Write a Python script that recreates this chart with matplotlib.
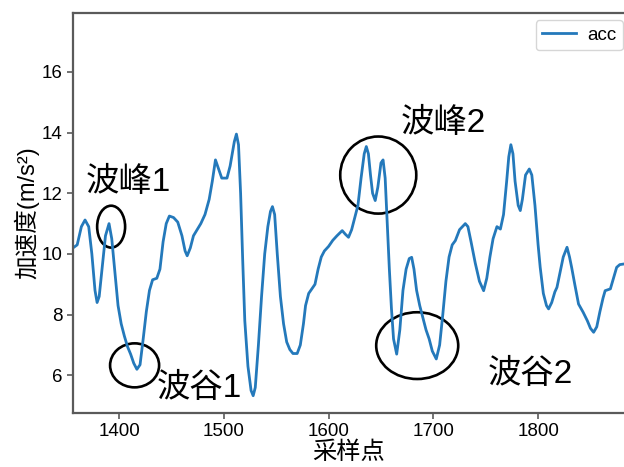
import matplotlib
matplotlib.use("Agg")
import matplotlib.pyplot as plt
from matplotlib.patches import Ellipse

plt.rcParams['font.family'] = ['Liberation Sans', 'Noto Sans CJK SC', 'DejaVu Sans']
plt.rcParams['axes.unicode_minus'] = False

# sample index and acceleration readings (m/s^2)
sample_idx = [
    1356, 1360, 1364, 1367.5, 1371, 1374, 1377, 1379, 1381, 1384, 1387, 1390.4,
    1393, 1396, 1399, 1402, 1405, 1408, 1411, 1414, 1417, 1420, 1423, 1426,
    1429, 1432, 1436, 1439, 1442, 1445, 1448, 1452, 1456, 1460, 1463, 1465,
    1468, 1471, 1474, 1478, 1482, 1486, 1489, 1492, 1495, 1498, 1503, 1506,
    1508, 1510, 1512, 1514, 1516, 1518, 1520, 1523, 1526, 1528, 1530, 1533,
    1536, 1539, 1542, 1544.5, 1546.4, 1548.5, 1551, 1554, 1557, 1560, 1563, 1566,
    1570, 1573, 1576, 1578, 1581, 1584, 1587, 1590, 1593, 1596, 1600, 1604,
    1608, 1613, 1616, 1619, 1622, 1625, 1628, 1631, 1634, 1636, 1638, 1640,
    1642, 1644.5, 1647, 1650, 1652, 1654, 1656, 1658, 1660, 1662, 1665, 1668,
    1671, 1674, 1677, 1679.3, 1681.5, 1684, 1687, 1690, 1693, 1696, 1699, 1702.8,
    1706, 1709, 1712, 1715, 1718, 1721, 1725, 1730.5, 1733, 1736, 1740, 1744,
    1748, 1751, 1754, 1757, 1760.7, 1764, 1767, 1770, 1772, 1774, 1776, 1778,
    1781, 1783, 1785, 1788, 1791.6, 1794, 1797, 1800, 1802, 1805, 1808, 1810,
    1813, 1816, 1818, 1821, 1824, 1827.6, 1830, 1832, 1835, 1838.6, 1843, 1847,
    1850, 1853, 1856, 1859, 1862, 1864, 1869, 1872, 1875, 1878, 1882,
]
acc = [
    10.2, 10.3, 10.9, 11.12, 10.9, 10.0, 8.8, 8.4, 8.6, 9.6, 10.6, 11.0,
    10.5, 9.4, 8.3, 7.7, 7.3, 6.95, 6.7, 6.4, 6.2, 6.35, 7.2, 8.1,
    8.8, 9.15, 9.2, 9.5, 10.4, 11.0, 11.25, 11.2, 11.05, 10.6, 10.1, 9.94,
    10.2, 10.6, 10.77, 11.0, 11.3, 11.8, 12.4, 13.1, 12.8, 12.5, 12.5, 12.9,
    13.3, 13.7, 13.95, 13.6, 12.0, 9.8, 7.8, 6.3, 5.5, 5.33, 5.6, 7.0,
    8.6, 10.0, 10.9, 11.4, 11.56, 11.3, 10.0, 8.6, 7.7, 7.1, 6.85, 6.72,
    6.72, 7.0, 7.7, 8.3, 8.7, 8.85, 9.0, 9.5, 9.9, 10.1, 10.25, 10.45,
    10.6, 10.77, 10.65, 10.55, 10.8, 11.2, 11.6, 12.5, 13.3, 13.54, 13.3, 12.6,
    12.0, 11.76, 12.2, 13.0, 13.1, 12.5, 11.0, 9.5, 8.2, 7.2, 6.7, 7.5,
    8.8, 9.5, 9.85, 9.89, 9.5, 8.8, 8.3, 7.9, 7.5, 7.2, 6.8, 6.54,
    7.0, 8.0, 9.1, 9.9, 10.3, 10.44, 10.8, 11.0, 10.9, 10.4, 9.7, 9.1,
    8.79, 9.2, 9.9, 10.5, 10.9, 10.82, 11.3, 12.4, 13.2, 13.6, 13.3, 12.4,
    11.6, 11.43, 11.8, 12.6, 12.8, 12.6, 11.6, 10.3, 9.56, 8.7, 8.3, 8.19,
    8.4, 8.75, 8.9, 9.4, 9.9, 10.22, 9.9, 9.56, 9.0, 8.35, 8.08, 7.8,
    7.55, 7.42, 7.6, 8.1, 8.55, 8.79, 8.85, 9.2, 9.56, 9.65, 9.67,
]

x_ticks = [1400, 1500, 1600, 1700, 1800]
y_ticks = [6, 8, 10, 12, 14, 16]

# marked features: (label, text x, text y, ellipse x, ellipse y, ellipse w, ellipse h)
features = [
    ("波峰1", 1408.6, 12.35, 1392.4, 10.9, 26.7, 1.38),
    ("波谷1", 1476.4, 5.56, 1414.8, 6.33, 46.8, 1.45),
    ("波峰2", 1709.5, 14.29, 1647.4, 12.6, 72.6, 2.54),
    ("波谷2", 1792.6, 6.04, 1684.6, 6.98, 78.3, 2.2),
]

fig = plt.figure(figsize=(6.24, 4.67), dpi=100)
ax = fig.add_axes([73 / 624, 1 - 413 / 467, 1 - 73 / 624, 400 / 467])

ax.plot(sample_idx, acc, color='#2479bb', lw=2.0, label='acc')

for label, tx, ty, ex, ey, ew, eh in features:
    ax.add_patch(Ellipse((ex, ey), ew, eh, fill=False, ec='black', lw=1.9))
    ax.text(tx, ty, label, fontsize=24, ha='center', va='center', color='black')

ax.set_xlim(1356, 1882)
ax.set_ylim(4.76, 17.94)
ax.set_xticks(x_ticks)
ax.set_yticks(y_ticks)

spine_color = '#5a5a5a'
for side in ('left', 'bottom', 'top'):
    ax.spines[side].set_color(spine_color)
    ax.spines[side].set_linewidth(1.6)
ax.spines['right'].set_visible(False)
ax.tick_params(axis='both', colors=spine_color, labelcolor='black',
               labelsize=13.5, length=4, width=1.2, direction='out')

ax.set_xlabel('采样点', fontsize=17.5, labelpad=1)
ax.set_ylabel('加速度(m/s²)', fontsize=17, labelpad=2)

leg = ax.legend(loc='upper right', bbox_to_anchor=(623 / 624, 1 - 20 / 467),
                bbox_transform=fig.transFigure, borderaxespad=0,
                fontsize=13.5, frameon=True, handlelength=1.8, borderpad=0.35,
                handletextpad=0.6)
leg.get_frame().set_edgecolor('#cccccc')

fig.savefig('out.png', dpi=100)
